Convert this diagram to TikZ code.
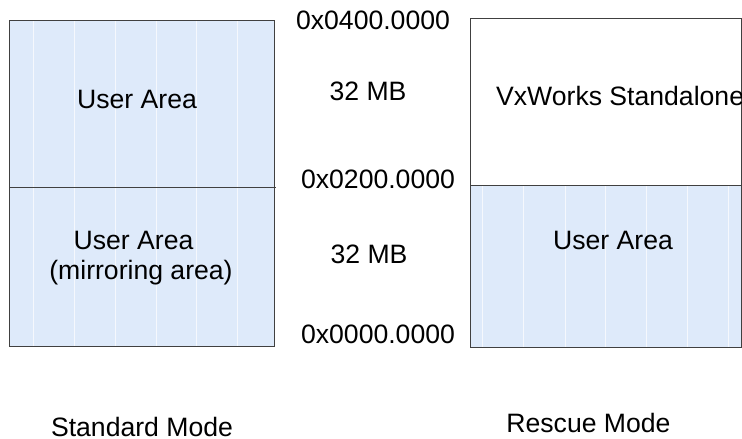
\documentclass[tikz,border=0pt]{standalone}
\usepackage{fontspec}
\setmainfont{Liberation Sans}
\begin{document}
\begin{tikzpicture}[x=1pt,y=-1pt,
  lbl/.style={font=\fontsize{26.6}{31}\selectfont, inner sep=0pt, anchor=base},
  captxt/.style={lbl, text depth=0pt},
  area/.style={fill={rgb,255:red,222;green,234;blue,250}},
  frame/.style={draw=black!75, line width=1pt},
  stripe/.style={draw=white, line width=0.9pt, opacity=0.7}]
\useasboundingbox (0,0) rectangle (742,439);
% coordinates
\coordinate (lTL) at (9.5,20);
\coordinate (lBR) at (274.5,346);
\coordinate (lDivL) at (9.5,187);
\coordinate (lDivR) at (276,187);
\coordinate (rTL) at (470,18);
\coordinate (rBR) at (741,347);
\coordinate (rDivL) at (470,185);
\coordinate (rDivR) at (741,185);
% fills
\path[area] (lTL) rectangle (lBR);
\path[area] (rDivL) rectangle (rBR);
\foreach \x in {33.3,74,115,156,196.7,237.3}
  \draw[stripe] (\x,20.5) -- (\x,345.5);
\foreach \x in {482.7,523,565,605.7,646.7,687.7,728}
  \draw[stripe] (\x,185.5) -- (\x,346.5);
% frames
\draw[frame] (lTL) rectangle (lBR);
\draw[frame] (lDivL) -- (lDivR);
\draw[frame] (rTL) rectangle (rBR);
\draw[frame] (rDivL) -- (rDivR);
% left texts
\node[lbl] (lua) at (137,108) {User Area};
\node[lbl] (lub) at (133.5,249) {User Area};
\node[lbl] (lmir) at (141,279) {(mirroring area)};
% address labels
\node[lbl] (a400) at (373,30) {0x0400.0000};
\node[lbl] (mb1) at (368,100) {32 MB};
\node[lbl] (a200) at (378,188) {0x0200.0000};
\node[lbl] (mb2) at (369,263) {32 MB};
\node[lbl] (a000) at (378,343) {0x0000.0000};
% right texts
\begin{scope}
\clip (rTL) rectangle (rBR);
\node[lbl, anchor=base west] (vx) at (496,105) {VxWorks Standalone};
\end{scope}
\node[lbl] (rua) at (613,249) {User Area};
% captions
\node[captxt] (std) at (142,436.5) {Standard Mode};
\node[captxt] (res) at (588.5,432.5) {Rescue Mode};
\end{tikzpicture}
\end{document}
